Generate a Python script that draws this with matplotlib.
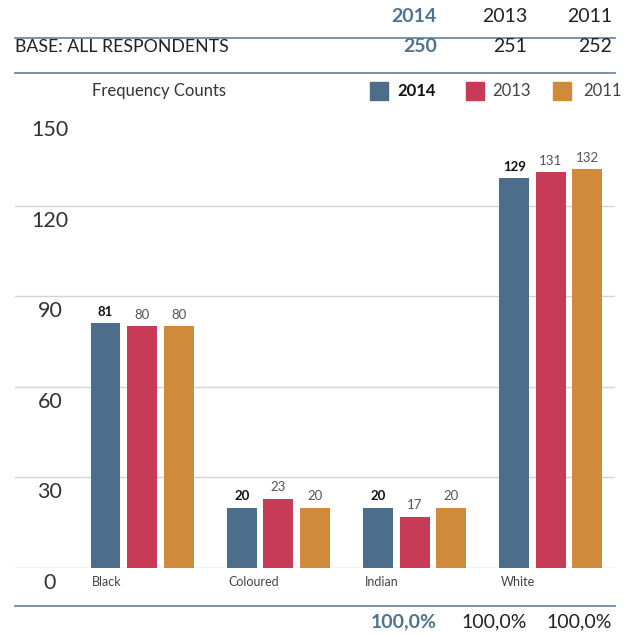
import matplotlib
matplotlib.use("Agg")
import matplotlib.pyplot as plt
import numpy as np
from matplotlib.patches import Rectangle
import matplotlib.transforms as mtransforms

plt.rcParams['font.family'] = ['Lato', 'DejaVu Sans']

categories = ["Black", "Coloured", "Indian", "White"]
years = ["2014", "2013", "2011"]
v2014 = [81, 20, 20, 129]
v2013 = [80, 23, 17, 131]
v2011 = [80, 20, 20, 132]
bases = ["250", "251", "252"]
totals = ["100,0%", "100,0%", "100,0%"]
yticks = [0, 30, 60, 90, 120, 150]

colors = ["#4c6e8a", "#c83b56", "#d08a3b"]
blue_txt = "#4f7390"
W, H = 632, 635
fig = plt.figure(figsize=(W/100, H/100), dpi=100)

def fx(px):
    return px / W
def fy(py):
    return 1 - py / H

ax = fig.add_axes([fx(15), fy(568), fx(615) - fx(15), fy(115) - fy(568)])
ax.set_ylim(0, 150)
ax.set_xlim(-0.932, 3.470)
for s in ax.spines.values():
    s.set_visible(False)
ax.set_xticks([]); ax.set_yticks([])
for v in yticks[:-1]:
    ax.axhline(v, color="#bdbdbd" if v == 0 else "#d4d4d4", lw=1.0, zorder=0)

x = np.arange(len(categories))
bw = 0.22
off = 0.268
series = [v2014, v2013, v2011]
for j, vals in enumerate(series):
    xs = x + (j - 1) * off
    ax.bar(xs, vals, width=bw, color=colors[j], zorder=2)
    for xi, vi in zip(xs, vals):
        ax.annotate(str(vi), (xi, vi), xytext=(0, 4), textcoords="offset points",
                    ha="center", va="bottom", fontsize=9.5,
                    color="#111111" if j == 0 else "#555555",
                    fontweight="bold" if j == 0 else "normal")

# y tick labels below gridlines
trans = mtransforms.blended_transform_factory(ax.transAxes, ax.transData)
for v in yticks:
    t = mtransforms.offset_copy(trans, fig=fig, x=0, y=-15, units="dots")
    ax.text((50 - 15) / 600, v, str(v), transform=t, ha="center", va="center",
            fontsize=15.5, color="#333333")

# category labels
for i, c in enumerate(categories):
    ax.annotate(c, (x[i] - off - bw / 2, 0), xytext=(1, -6), textcoords="offset points",
                ha="left", va="top", fontsize=9, color="#444444")

# header
rights = [437, 527, 612]
for k, (yr, b, tot) in enumerate(zip(years, bases, totals)):
    col = blue_txt if k == 0 else "#222222"
    wt = "bold" if k == 0 else "normal"
    fig.text(fx(rights[k]), fy(17), yr, ha="right", va="center", fontsize=14, color=col, fontweight=wt)
    fig.text(fx(rights[k]), fy(47), b, ha="right", va="center", fontsize=14, color=col, fontweight=wt)
    fig.text(fx(rights[k]), fy(622), tot, ha="right", va="center", fontsize=14, color=col, fontweight=wt)

fig.text(fx(15), fy(47), "BASE: ALL RESPONDENTS", ha="left", va="center", fontsize=12.8, color="#222222")
for py in [38, 73, 606]:
    fig.add_artist(plt.Line2D([fx(15), fx(615)], [fy(py), fy(py)], color="#6f8aa0", lw=1.3))

# legend row
fig.text(fx(92), fy(91), "Frequency Counts", ha="left", va="center", fontsize=12, color="#333333")
sq = [370, 466, 553]
lab = [397, 492, 583]
for k in range(3):
    fig.add_artist(Rectangle((fx(sq[k]), fy(100)), fx(18), 18 / H, color=colors[k], transform=fig.transFigure))
    fig.text(fx(lab[k]), fy(91), years[k], ha="left", va="center", fontsize=12,
             color="#111111" if k == 0 else "#444444", fontweight="bold" if k == 0 else "normal")

fig.savefig("out.png", dpi=100)
